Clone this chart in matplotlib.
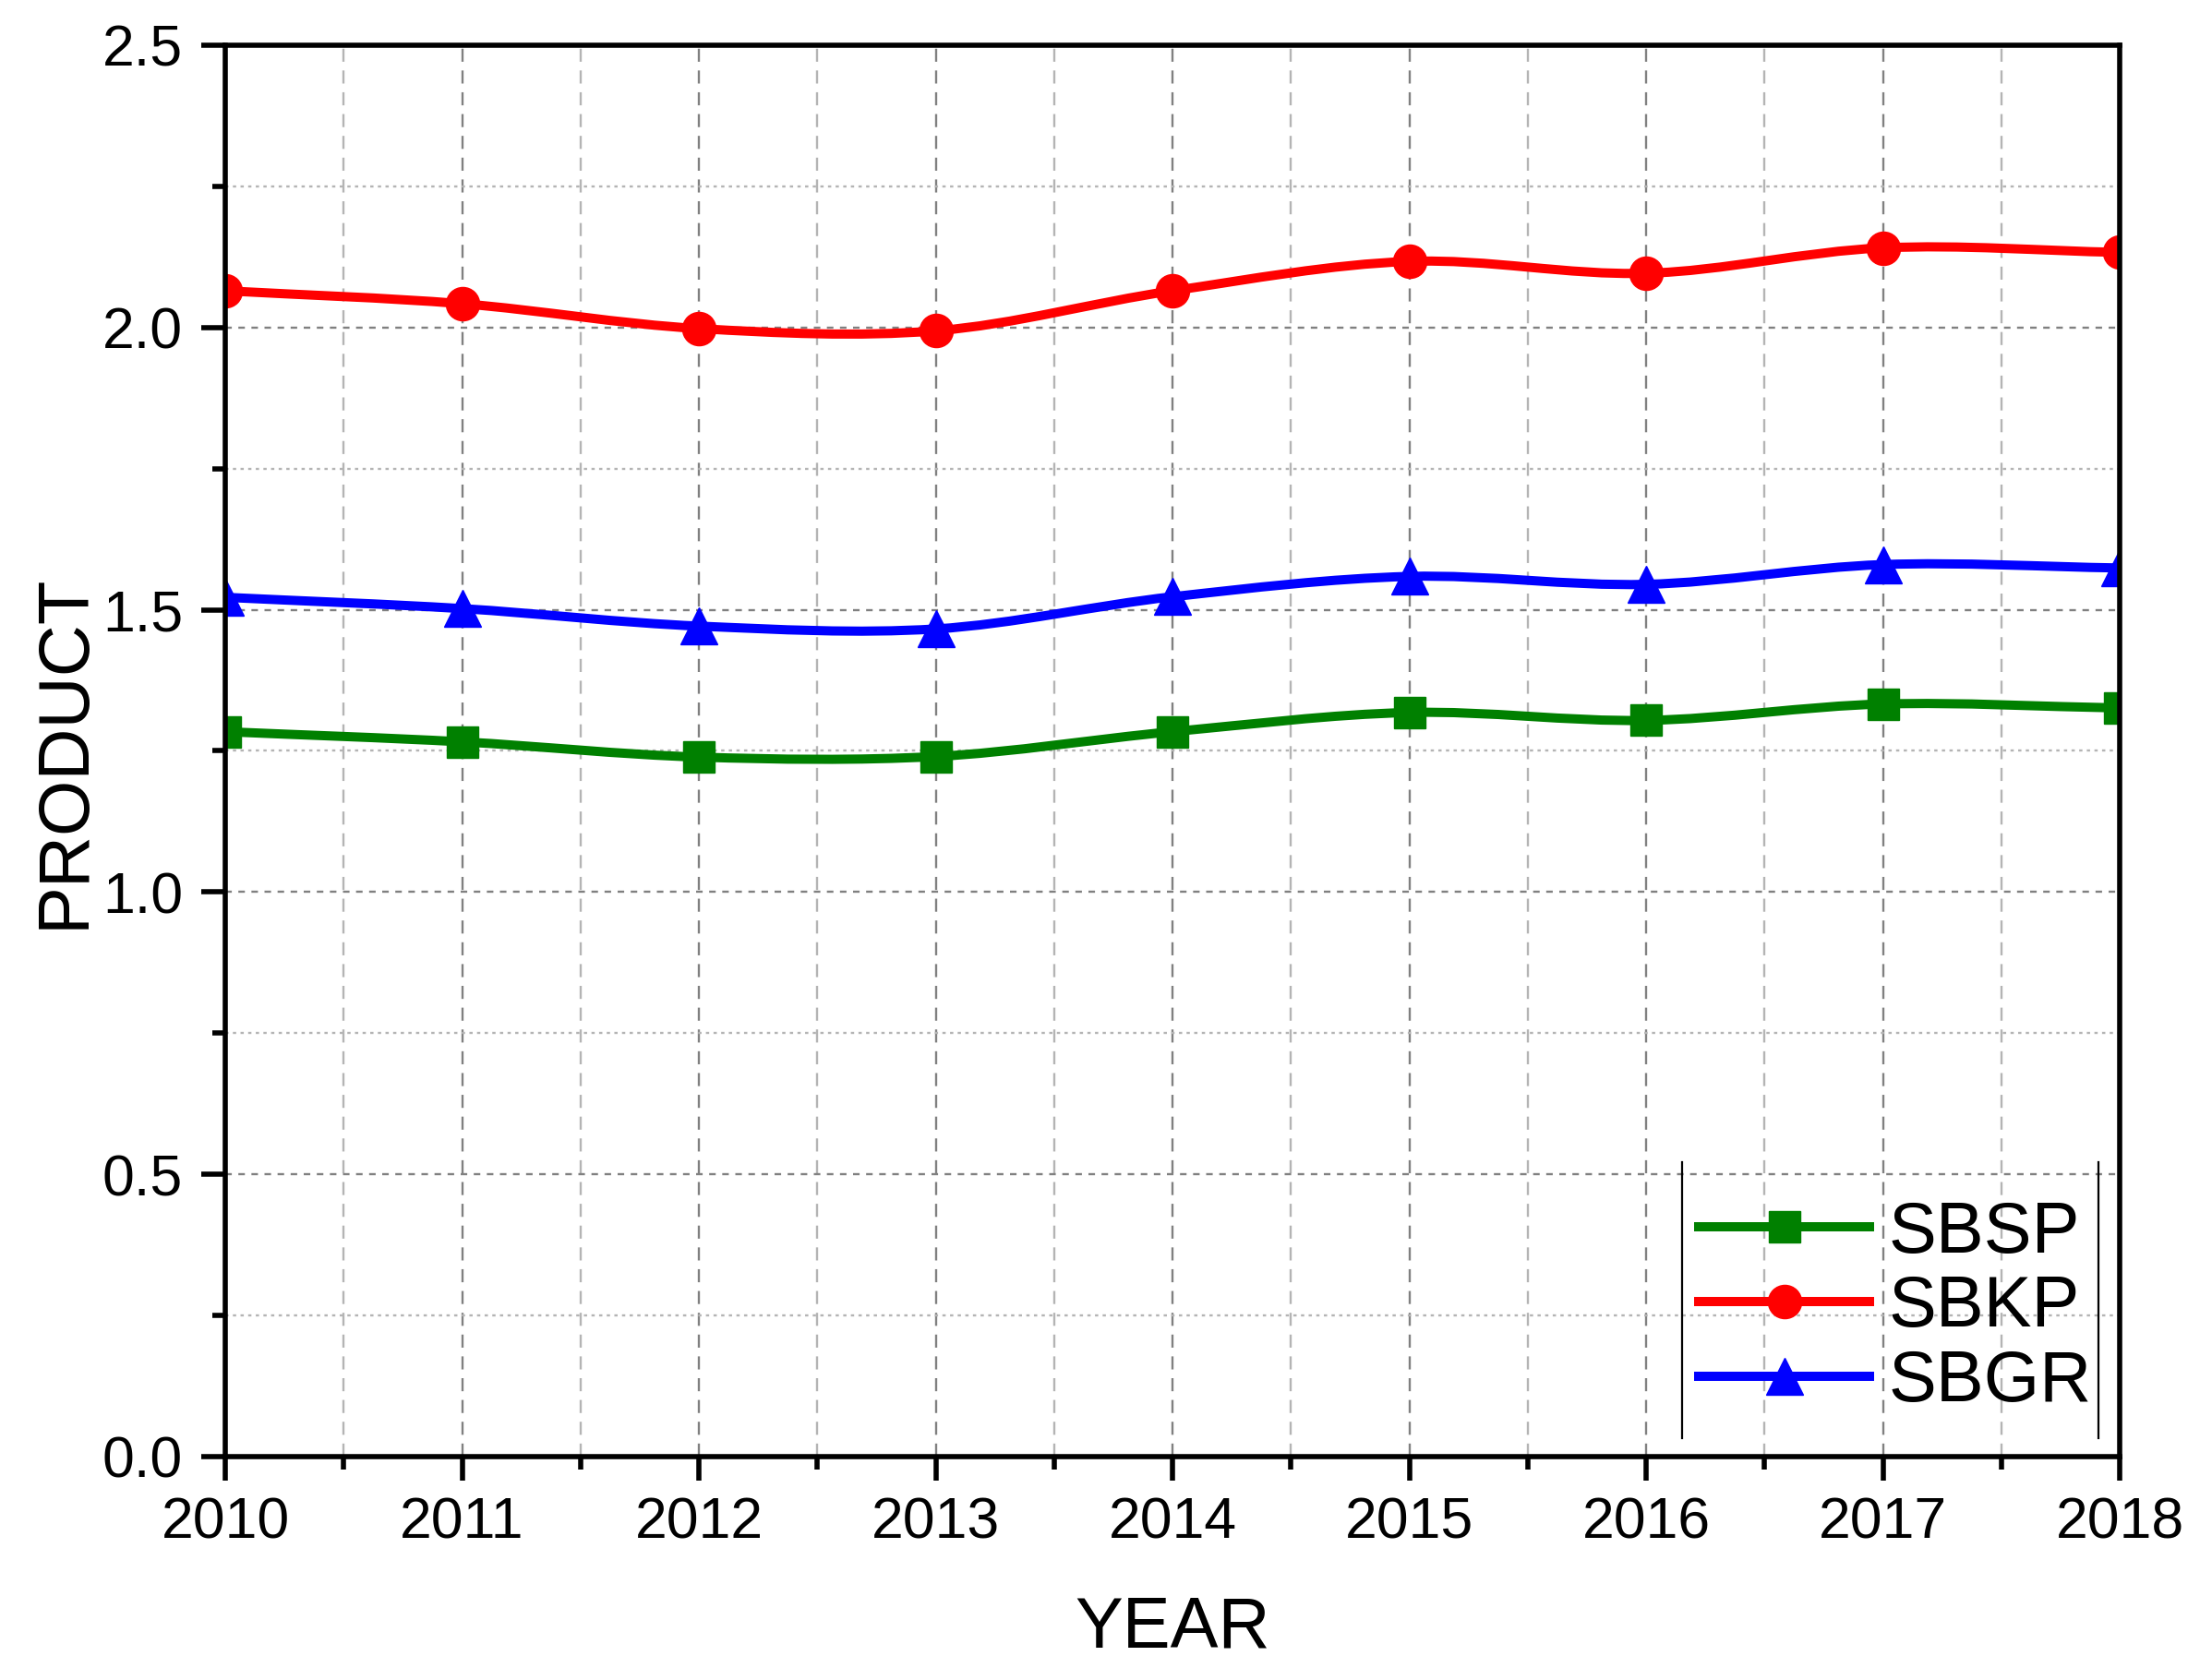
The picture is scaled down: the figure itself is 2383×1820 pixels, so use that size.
import numpy as np
import matplotlib
matplotlib.use("Agg")
import matplotlib.pyplot as plt
from matplotlib.path import Path
from matplotlib.patches import PathPatch
from matplotlib.lines import Line2D
from matplotlib.ticker import MultipleLocator

plt.rcParams['font.family'] = ['Liberation Sans', 'DejaVu Sans']

# valeurs
years = [2010, 2011, 2012, 2013, 2014, 2015, 2016, 2017, 2018]
sbsp = [1.284, 1.266, 1.239, 1.240, 1.284, 1.318, 1.304, 1.333, 1.326]
sbkp = [2.065, 2.042, 1.998, 1.994, 2.065, 2.117, 2.096, 2.141, 2.133]
sbgr = [1.522, 1.502, 1.471, 1.466, 1.523, 1.559, 1.545, 1.580, 1.574]

series = [
    ('SBSP', sbsp, '#008000', 's', 24),
    ('SBKP', sbkp, '#ff0000', 'o', 26),
    ('SBGR', sbgr, '#0000ff', '^', 29),
]


# courbe lissée (bezier catmull-rom) passant par les points
def smooth_path(x, y):
    x = np.asarray(x, float)
    y = np.asarray(y, float)
    n = len(x)
    m = np.zeros(n)
    m[0] = (y[1] - y[0]) / (x[1] - x[0])
    m[-1] = (y[-1] - y[-2]) / (x[-1] - x[-2])
    for i in range(1, n - 1):
        m[i] = (y[i + 1] - y[i - 1]) / (x[i + 1] - x[i - 1])
    verts = [(x[0], y[0])]
    codes = [Path.MOVETO]
    for i in range(n - 1):
        h = x[i + 1] - x[i]
        verts += [(x[i] + h / 3, y[i] + m[i] * h / 3),
                  (x[i + 1] - h / 3, y[i + 1] - m[i + 1] * h / 3),
                  (x[i + 1], y[i + 1])]
        codes += [Path.CURVE4] * 3
    return Path(verts, codes)


fig = plt.figure(figsize=(23.83, 18.20), dpi=100)
ax = fig.add_axes([0.1024, 0.1330, 0.8611, 0.8401])

ax.set_xlim(2010, 2018)
ax.set_ylim(0, 2.5)
ax.xaxis.set_major_locator(MultipleLocator(1))
ax.xaxis.set_minor_locator(MultipleLocator(0.5))
ax.yaxis.set_major_locator(MultipleLocator(0.5))
ax.yaxis.set_minor_locator(MultipleLocator(0.25))
ax.yaxis.set_major_formatter(matplotlib.ticker.FormatStrFormatter('%.1f'))

# grille
ax.grid(True, which='major', axis='x', color='#808080', lw=1.7, ls=(0, (6, 4)))
ax.grid(True, which='minor', axis='x', color='#b4b4b4', lw=1.7, ls=(0, (6, 4)))
ax.grid(True, which='major', axis='y', color='#808080', lw=1.7, ls=(0, (3, 3)))
ax.grid(True, which='minor', axis='y', color='#b4b4b4', lw=1.7, ls=(0, (1.5, 2)))
ax.set_axisbelow(True)

for s in ax.spines.values():
    s.set_linewidth(4)
    s.set_zorder(5)

ax.tick_params(which='major', direction='out', length=19, width=4,
               labelsize=45, top=False, right=False)
ax.tick_params(which='minor', direction='out', length=10, width=4,
               top=False, right=False)
ax.tick_params(axis='x', which='major', pad=12)
ax.tick_params(axis='y', which='major', pad=14)

handles = []
for name, vals, col, mk, ms in series:
    ax.add_patch(PathPatch(smooth_path(years, vals), fc='none', ec=col,
                           lw=7.2, zorder=3, capstyle='round', joinstyle='round'))
    ax.plot(years, vals, ls='none', marker=mk, ms=ms, color=col, mec=col, zorder=4)
    handles.append(Line2D([], [], color=col, lw=7.2, marker=mk, ms=ms, mec=col,
                          label=name))

ax.set_xlabel('YEAR', fontsize=56)
ax.set_ylabel('PRODUCT', fontsize=56)
ax.xaxis.set_label_coords(0.5, -0.098)
ax.yaxis.set_label_coords(-0.067, 0.5)

leg = ax.legend(handles=handles, loc='center left', bbox_to_anchor=(0.778, 0.1053),
                frameon=False, fontsize=56, borderpad=0, borderaxespad=0,
                handlelength=2.37, handletextpad=0.26, labelspacing=0.1,
                numpoints=1)
leg.set_zorder(6)

# bords verticaux de la legende
for xb in (0.769, 0.9888):
    ax.add_line(Line2D([xb, xb], [0.0131, 0.2086], transform=ax.transAxes,
                       color='black', lw=1.6, zorder=6))

fig.savefig('out.png', dpi=100)
